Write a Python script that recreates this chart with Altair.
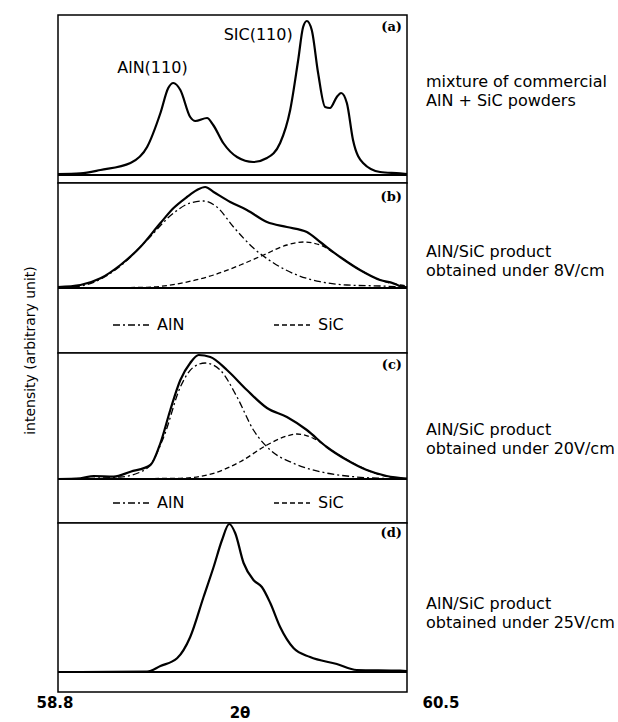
import altair as alt
import pandas as pd

X_DOMAIN = [58.8, 60.5]

# ---- panel (a): mixture of commercial powders ----
A_X = [58.800, 58.909, 59.007, 59.153, 59.234, 59.299, 59.337, 59.362, 59.396, 59.444,
       59.469, 59.526, 59.556, 59.605, 59.672, 59.751, 59.818, 59.882, 59.931, 59.970,
       59.994, 60.012, 60.036, 60.067, 60.101, 60.125, 60.158, 60.179, 60.207, 60.237,
       60.286, 60.369, 60.466, 60.500]
A_Y = [1, 1.7, 5, 12, 28, 62, 87, 92, 85, 58,
       54, 57, 50, 32, 18, 13, 17, 32, 65, 115,
       148, 154, 145, 102, 68, 67, 78, 82, 72, 35,
       12, 3, 1.7, 1]

# ---- panel (b): 8 V/cm ----
B_X = [58.800, 58.909, 59.007, 59.104, 59.201, 59.299, 59.363, 59.428, 59.477, 59.517,
       59.558, 59.639, 59.720, 59.818, 59.915, 60.012, 60.077, 60.174, 60.271, 60.369,
       60.433, 60.466, 60.500]
B_Y = [1, 3, 9.7, 23, 41, 65, 80, 91, 98, 101,
       96, 86, 78, 66, 61, 56, 46, 31, 18, 8,
       4.7, 2, 0.5]
B_ALN_X = [58.800, 58.909, 59.104, 59.234, 59.363, 59.444, 59.509, 59.574, 59.655, 59.752,
           59.850, 59.964, 60.077, 60.207, 60.369, 60.500]
B_ALN_Y = [0.5, 2, 22, 48, 75, 85, 87, 81, 61, 40, 25, 13, 6.3, 3, 2, 1]
B_SIC_X = [58.800, 59.234, 59.396, 59.558, 59.688, 59.801, 59.915, 59.996, 60.077, 60.174,
           60.271, 60.369, 60.466, 60.500]
B_SIC_Y = [0, 0.7, 4.7, 13, 23, 33, 43, 46, 43, 31, 18, 8, 3, 2]

# ---- panel (c): 20 V/cm ----
C_X = [58.800, 58.909, 58.974, 59.071, 59.153, 59.250, 59.299, 59.347, 59.396, 59.444,
       59.485, 59.542, 59.623, 59.720, 59.818, 59.915, 60.012, 60.109, 60.207, 60.304,
       60.401, 60.500]
C_Y = [0, 0.7, 3, 2.3, 7.3, 14, 36, 69, 99, 116,
       124, 122, 109, 89, 71, 62, 49, 32, 19, 9,
       3, 0.5]
C_ALN_X = [58.800, 59.104, 59.234, 59.315, 59.396, 59.461, 59.517, 59.590, 59.672, 59.752,
           59.834, 59.947, 60.077, 60.239, 60.369, 60.500]
C_ALN_Y = [0, 2, 10.7, 42, 92, 112, 116, 109, 82, 49, 29, 15.7, 7.3, 2.3, 0.7, 0]
C_SIC_X = [58.800, 59.396, 59.558, 59.688, 59.818, 59.915, 59.964, 60.044, 60.142, 60.255,
           60.369, 60.466, 60.500]
C_SIC_Y = [0, 0.7, 5.7, 17.3, 34, 43, 45, 40.7, 27.3, 14, 4, 0.7, 0.3]

# ---- panel (d): 25 V/cm ----
D_X = [58.800, 58.909, 59.234, 59.299, 59.380, 59.444, 59.509, 59.558, 59.599, 59.634,
       59.663, 59.704, 59.752, 59.793, 59.834, 59.882, 59.947, 60.028, 60.158, 60.255,
       60.466, 60.500]
D_Y = [0, 0, 0.3, 6, 13.7, 35, 75, 105, 132, 148,
       139, 109, 92, 85, 69, 45, 24, 15, 8, 2,
       1.3, 1]

SERIES = ["AlN", "SiC"]
PANEL_LABELS = ["(a)", "(b)", "(c)", "(d)"]
NOTES = [
    ["mixture of commercial", "AlN + SiC powders"],
    ["AlN/SiC product", "obtained under 8V/cm"],
    ["AlN/SiC product", "obtained under 20V/cm"],
    ["AlN/SiC product", "obtained under 25V/cm"],
]
PEAKS = ["AlN(110)", "SIC(110)"]
X_TICKS = [58.8, 60.5]

SANS = "DejaVu Sans"
W = 349
VIEW = alt.ViewBackground(stroke="black", strokeWidth=1.5, fill="white")


def df_line(xs, ys):
    return pd.DataFrame({"x": xs, "y": ys})


def df_comp(parts):
    frames = []
    for name, (xs, ys) in zip(SERIES, parts):
        frames.append(pd.DataFrame({"x": xs, "y": ys, "series": name}))
    return pd.concat(frames, ignore_index=True)


def make_panel(idx, height, ydom, meas, comps=None, legend_y=None,
               label_y=12, notes_y=(70, 89), xaxis=None, yaxis=None, extra=None):
    xs = alt.Scale(domain=X_DOMAIN, nice=False, zero=False)
    ys = alt.Scale(domain=ydom, nice=False, zero=False)
    base_rule = alt.Chart(pd.DataFrame({"y": [0]})).mark_rule(
        color="black", strokeWidth=1.8
    ).encode(y=alt.Y("y:Q", scale=ys, axis=yaxis))
    meas_line = alt.Chart(df_line(*meas)).mark_line(
        color="black", strokeWidth=2.2, interpolate="monotone"
    ).encode(
        x=alt.X("x:Q", scale=xs, axis=xaxis),
        y=alt.Y("y:Q", scale=ys),
    )
    layers = [base_rule, meas_line]
    if comps is not None:
        leg = alt.Legend(
            title=None, orient="none", legendX=54, legendY=legend_y,
            direction="horizontal", symbolType="stroke", symbolSize=1296,
            symbolStrokeWidth=1.3, symbolStrokeColor="black",
            labelFont=SANS, labelFontSize=16, labelColor="black",
            labelOffset=7, columnPadding=86, padding=0,
        )
        comp_line = alt.Chart(df_comp(comps)).mark_line(
            color="black", strokeWidth=1.3, interpolate="monotone"
        ).encode(
            x=alt.X("x:Q", scale=xs),
            y=alt.Y("y:Q", scale=ys),
            strokeDash=alt.StrokeDash(
                "series:N",
                scale=alt.Scale(domain=SERIES, range=[[7, 3, 2, 3], [5, 3]]),
                legend=leg,
            ),
        )
        layers.append(comp_line)
    lab = alt.Chart(pd.DataFrame({"t": [PANEL_LABELS[idx]]})).mark_text(
        font="DejaVu Serif", fontWeight="bold", fontSize=13, align="right",
        baseline="middle", color="black"
    ).encode(text="t:N", x=alt.value(W - 5), y=alt.value(label_y))
    layers.append(lab)
    for line_text, yy in zip(NOTES[idx], notes_y):
        layers.append(
            alt.Chart(pd.DataFrame({"t": [line_text]})).mark_text(
                font=SANS, fontSize=16, align="left", baseline="middle", color="black"
            ).encode(text="t:N", x=alt.value(368), y=alt.value(yy))
        )
    if extra:
        layers.extend(extra)
    return alt.layer(*layers).properties(width=W, height=height, view=VIEW)


peak_layers = [
    alt.Chart(pd.DataFrame({"t": [PEAKS[0]]})).mark_text(
        font=SANS, fontSize=16, align="center", baseline="middle", color="black"
    ).encode(text="t:N", x=alt.datum(59.260), y=alt.datum(107.5)),
    alt.Chart(pd.DataFrame({"t": [PEAKS[1]]})).mark_text(
        font=SANS, fontSize=16, align="center", baseline="middle", color="black"
    ).encode(text="t:N", x=alt.datum(59.775), y=alt.datum(140)),
]

y_title_axis = alt.Axis(
    title="intensity (arbitrary unit)", labels=False, ticks=False, domain=False,
    grid=False, titleAngle=270, titleX=-27.5, titleY=167, titleAlign="center",
    titleBaseline="middle", titleFont=SANS, titleFontSize=14,
    titleFontWeight="normal", titleColor="black",
)

x_bottom_axis = alt.Axis(
    values=X_TICKS, format=".1f", ticks=False, tickSize=0, domain=False, grid=False,
    labelFont=SANS, labelFontWeight="bold", labelFontSize=15, labelColor="black",
    labelPadding=3, labelBaseline="top",
    labelAlign={"condition": {"test": "datum.value < 59", "value": "right"}, "value": "left"},
    labelOffset=15, labelFlush=False, labelOverlap=False,
    title="2θ", titleFont=SANS, titleFontSize=15, titleFontWeight="bold",
    titleColor="black", titleX=181.5, titleY=13, titleBaseline="top", titleAlign="center",
)

pa = make_panel(0, 168, [-8, 160], (A_X, A_Y), label_y=12, notes_y=(67, 86),
                extra=peak_layers)
pb = make_panel(1, 170, [-65, 105], (B_X, B_Y),
                comps=[(B_ALN_X, B_ALN_Y), (B_SIC_X, B_SIC_Y)], legend_y=123,
                label_y=14, notes_y=(69, 88), yaxis=y_title_axis)
pc = make_panel(2, 170, [-44, 126], (C_X, C_Y),
                comps=[(C_ALN_X, C_ALN_Y), (C_SIC_X, C_SIC_Y)], legend_y=131,
                label_y=12, notes_y=(77, 96))
pd_ = make_panel(3, 169, [-20, 149], (D_X, D_Y), label_y=10, notes_y=(81, 100),
                 xaxis=x_bottom_axis)

chart = alt.vconcat(pa, pb, pc, pd_, spacing=0, bounds="flush").resolve_scale(
    y="independent", strokeDash="independent"
).resolve_legend(strokeDash="independent").resolve_axis(
    x="independent", y="independent"
).configure_view(
    stroke="black", strokeWidth=1.5
).configure(
    padding={"left": 22, "top": 14, "right": 0, "bottom": 0}
)

chart.save("out.html", embed_options={"renderer": "svg", "actions": False})
